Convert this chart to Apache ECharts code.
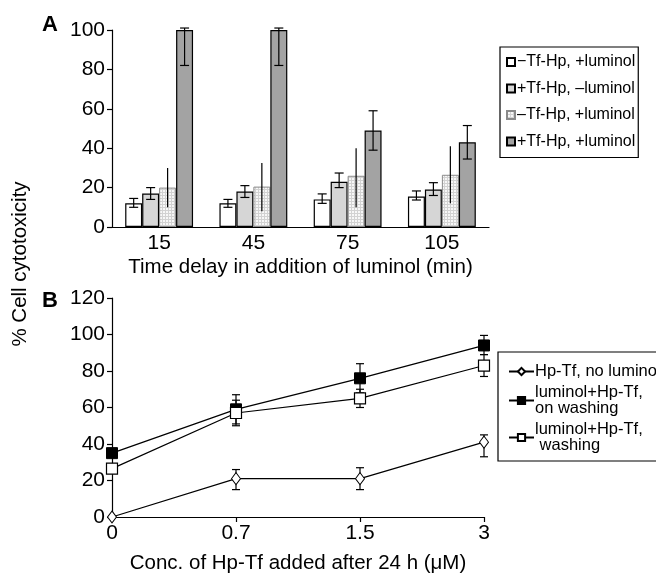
<!DOCTYPE html>
<html>
<head>
<meta charset="utf-8">
<script src="https://cdn.jsdelivr.net/npm/echarts@6/dist/echarts.min.js"></script>
<style>
  html, body { margin: 0; padding: 0; background: #fff; }
  #main { width: 656px; height: 575px; }
</style>
</head>
<body>
<div id="main"></div>
<script>
// ---- panel A data ----
var delays = ['15', '45', '75', '105'];
var namesA = ['\u2212Tf-Hp, +luminol', '+Tf-Hp, \u2013luminol', '\u2013Tf-Hp, +luminol', '+Tf-Hp, +luminol'];
var noTfLum = [12, 12, 14, 15.5];
var noTfLumLo = [10, 10, 12, 13.7];
var noTfLumHi = [14.5, 14, 16.8, 18.3];
var tfNoLum = [17, 18, 23, 19];
var tfNoLumLo = [14, 15, 20, 16];
var tfNoLumHi = [20, 21, 27.4, 22.5];
var noTfLum2 = [20, 20.5, 26, 26.5];
var noTfLum2Lo = [10, 8, 10, 12];
var noTfLum2Hi = [30, 32.5, 40, 41];
var tfLum = [100, 100, 49, 43];
var tfLumLo = [82, 82, 39, 34.5];
var tfLumHi = [101, 101, 59, 51.5];

// ---- panel B data ----
var conc = ['0', '0.7', '1.5', '3'];
var namesB = ['Hp-Tf, no luminol', 'luminol+Hp-Tf,\non washing', 'luminol+Hp-Tf,\n washing'];
var noLum = [0, 21, 21, 41];
var noLumLo = [null, 15, 15, 33];
var noLumHi = [null, 26, 27, 45];
var onWash = [35, 59, 76, 94];
var onWashLo = [null, 51, 68, 89];
var onWashHi = [null, 67, 84, 99.5];
var wash = [26.5, 57, 65, 83];
var washLo = [null, 50, 60, 77];
var washHi = [null, 64, 70, 89];

var FONT = '"Liberation Sans", Arial, sans-serif';
var GAP = 0.28;

// dotted grid fill for third bar
var pat = document.createElement('canvas');
pat.width = 3; pat.height = 3;
var pc = pat.getContext('2d');
pc.fillStyle = '#d2d2d2'; pc.fillRect(0, 0, 3, 3);
pc.fillStyle = '#f7f7f7'; pc.fillRect(1, 1, 2, 2);

function errData(lo, hi) {
  var out = [];
  for (var i = 0; i < lo.length; i++) {
    if (lo[i] != null) out.push([i, lo[i], hi[i]]);
  }
  return out;
}

// error bars for bars: k = bar position in group
function barErr(k, caps) {
  return function (params, api) {
    var c = api.value(0);
    var p1 = api.coord([c, api.value(1)]);
    var p2 = api.coord([c, api.value(2)]);
    var band = api.size([1, 0])[0];
    var bw = band * (1 - GAP) / 4;
    var x = p1[0] - 2 * bw + (k + 0.5) * bw;
    var st = { stroke: '#000', lineWidth: 1.2 };
    var kids = [{ type: 'line', shape: { x1: x, y1: p1[1], x2: x, y2: p2[1] }, style: st }];
    if (caps) {
      kids.push({ type: 'line', shape: { x1: x - 4.5, y1: p1[1], x2: x + 4.5, y2: p1[1] }, style: st });
      kids.push({ type: 'line', shape: { x1: x - 4.5, y1: p2[1], x2: x + 4.5, y2: p2[1] }, style: st });
    }
    return { type: 'group', children: kids };
  };
}

function lineErr(params, api) {
  var c = api.value(0);
  var p1 = api.coord([c, api.value(1)]);
  var p2 = api.coord([c, api.value(2)]);
  var x = p1[0];
  var st = { stroke: '#000', lineWidth: 1.2 };
  return {
    type: 'group', children: [
      { type: 'line', shape: { x1: x, y1: p1[1], x2: x, y2: p2[1] }, style: st },
      { type: 'line', shape: { x1: x - 4, y1: p1[1], x2: x + 4, y2: p1[1] }, style: st },
      { type: 'line', shape: { x1: x - 4, y1: p2[1], x2: x + 4, y2: p2[1] }, style: st }
    ]
  };
}

var axisLine = { lineStyle: { color: '#000', width: 1.2 } };
var axisTick = { lineStyle: { color: '#000', width: 1.2 }, length: 5 };
var tickLbl = { color: '#000', fontSize: 21, fontFamily: FONT };
var titleTxt = { color: '#000', fontSize: 20.5, fontFamily: FONT };

var barStyles = [
  { color: '#fff', borderColor: '#000', borderWidth: 1.2 },
  { color: '#d6d6d6', borderColor: '#000', borderWidth: 1.2 },
  { color: { image: pat, repeat: 'repeat' }, borderColor: '#8a8a8a', borderWidth: 1 },
  { color: '#a3a3a3', borderColor: '#000', borderWidth: 1.2 }
];
var barVals = [noTfLum, tfNoLum, noTfLum2, tfLum];
var barLo = [noTfLumLo, tfNoLumLo, noTfLum2Lo, tfLumLo];
var barHi = [noTfLumHi, tfNoLumHi, noTfLum2Hi, tfLumHi];

var series = [];
for (var i = 0; i < 4; i++) {
  series.push({
    name: namesA[i], type: 'bar', xAxisIndex: 0, yAxisIndex: 0,
    data: barVals[i], barGap: '0%', barCategoryGap: (GAP * 100) + '%',
    itemStyle: barStyles[i], silent: true
  });
}
for (var i = 0; i < 4; i++) {
  series.push({
    type: 'custom', xAxisIndex: 0, yAxisIndex: 0, z: 5, clip: false,
    renderItem: barErr(i, i !== 2), data: errData(barLo[i], barHi[i]),
    encode: { x: 0, y: [1, 2] }, silent: true
  });
}

var lineVals = [noLum, onWash, wash];
var lineLo = [noLumLo, onWashLo, washLo];
var lineHi = [noLumHi, onWashHi, washHi];
var syms = [
  { symbol: 'diamond', symbolSize: [9, 12], itemStyle: { color: '#fff', borderColor: '#000', borderWidth: 1 } },
  { symbol: 'rect', symbolSize: 11, itemStyle: { color: '#000', borderColor: '#000', borderWidth: 1 } },
  { symbol: 'rect', symbolSize: 11, itemStyle: { color: '#fff', borderColor: '#000', borderWidth: 1.2 } }
];
for (var i = 0; i < 3; i++) {
  series.push({
    type: 'custom', xAxisIndex: 1, yAxisIndex: 1, z: 2, clip: false,
    renderItem: lineErr, data: errData(lineLo[i], lineHi[i]),
    encode: { x: 0, y: [1, 2] }, silent: true
  });
}
for (var i = 0; i < 3; i++) {
  series.push({
    name: namesB[i], type: 'line', xAxisIndex: 1, yAxisIndex: 1, z: 3 + i,
    data: lineVals[i], symbol: syms[i].symbol, symbolSize: syms[i].symbolSize,
    showAllSymbol: true, itemStyle: syms[i].itemStyle,
    lineStyle: { color: '#000', width: 1.2 }, silent: true
  });
}

var chart = echarts.init(document.getElementById('main'), null, { renderer: 'canvas' });
chart.setOption({
  animation: false,
  backgroundColor: '#fff',
  textStyle: { fontFamily: FONT },
  grid: [
    { left: 112, top: 30, width: 377, height: 197 },
    { left: 112, top: 298, width: 372, height: 219 }
  ],
  xAxis: [
    {
      type: 'category', gridIndex: 0, data: delays,
      axisLine: axisLine, axisTick: axisTick, axisLabel: Object.assign({ margin: 6 }, tickLbl),
      name: 'Time delay in addition of luminol (min)', nameLocation: 'middle', nameGap: 30,
      nameTextStyle: titleTxt
    },
    {
      type: 'category', gridIndex: 1, data: conc, boundaryGap: false,
      axisLine: axisLine, axisTick: axisTick, axisLabel: Object.assign({ margin: 6 }, tickLbl),
      name: 'Conc. of Hp-Tf added after 24 h (\u03bcM)', nameLocation: 'middle', nameGap: 36,
      nameTextStyle: titleTxt
    }
  ],
  yAxis: [
    {
      type: 'value', gridIndex: 0, min: 0, max: 100, interval: 20,
      axisLine: { show: true, lineStyle: axisLine.lineStyle }, axisTick: { show: true, length: 5, lineStyle: axisTick.lineStyle },
      axisLabel: Object.assign({ margin: 7 }, tickLbl), splitLine: { show: false }
    },
    {
      type: 'value', gridIndex: 1, min: 0, max: 120, interval: 20,
      axisLine: { show: true, lineStyle: axisLine.lineStyle }, axisTick: { show: true, length: 5, lineStyle: axisTick.lineStyle },
      axisLabel: Object.assign({ margin: 7 }, tickLbl), splitLine: { show: false }
    }
  ],
  legend: [
    {
      data: namesA, orient: 'vertical', left: 500, top: 47,
      padding: [7, 3, 8, 6], itemGap: 10.5, itemWidth: 8, itemHeight: 8,
      borderColor: '#000', borderWidth: 1.2, icon: 'rect',
      textStyle: { color: '#000', fontSize: 16, fontFamily: FONT, padding: [0, 0, 0, -3] },
      selectedMode: false
    },
    {
      data: namesB, orient: 'vertical', left: 498, top: 352,
      padding: [11, 10, 7, 10], itemGap: 4, itemWidth: 25, itemHeight: 9,
      borderColor: '#000', borderWidth: 1.2,
      textStyle: { color: '#000', fontSize: 16.5, lineHeight: 16, fontFamily: FONT, padding: [0, 0, 0, -4] },
      selectedMode: false
    }
  ],
  graphic: [
    { type: 'text', left: 42, top: 14, style: { text: 'A', font: 'bold 22px ' + FONT, fill: '#000' } },
    { type: 'text', left: 42, top: 290, style: { text: 'B', font: 'bold 22px ' + FONT, fill: '#000' } },
    {
      type: 'text', x: 20, y: 264, rotation: Math.PI / 2,
      style: { text: '% Cell cytotoxicity', font: '20.5px ' + FONT, fill: '#000', align: 'center', verticalAlign: 'middle' }
    }
  ],
  series: series
});
</script>
</body>
</html>
